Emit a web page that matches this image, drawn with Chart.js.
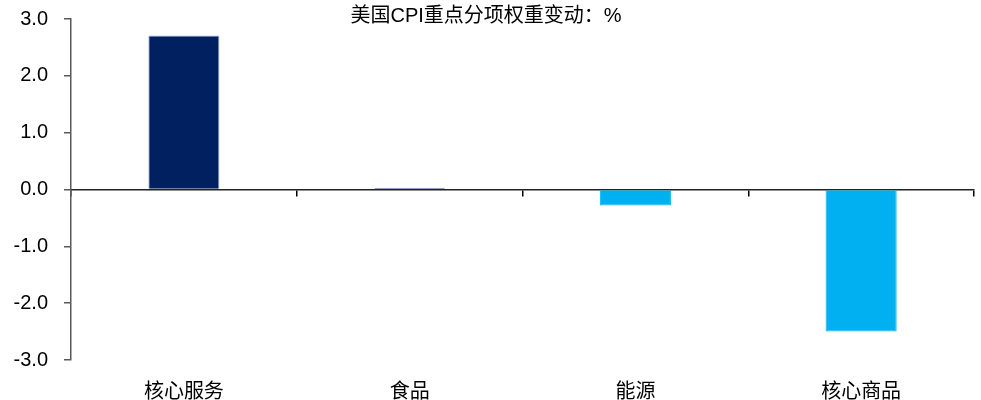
<!DOCTYPE html>
<html>
<head>
<meta charset="utf-8">
<script src="https://cdn.jsdelivr.net/npm/chart.js@4"></script>
<style>
  html, body { margin: 0; padding: 0; background: #fff; }
  #wrap { width: 981px; height: 400px; position: relative; }
</style>
</head>
<body>
<div id="wrap"><canvas id="myChart"></canvas></div>
<script>
// datos del grafico
const categorias = ['核心服务', '食品', '能源', '核心商品'];
const valores = [2.71, 0.03, -0.28, -2.5];
const ticksY = [-3, -2, -1, 0, 1, 2, 3];
const titulo = '美国CPI重点分项权重变动：%';

const fuente = '"Liberation Sans", "Noto Sans CJK SC", sans-serif';

// titulo dibujado encima del area, sin ocupar espacio
const tituloPlugin = {
  id: 'tituloPlugin',
  afterDraw(chart) {
    const ctx = chart.ctx;
    ctx.save();
    ctx.font = '20px ' + fuente;
    ctx.fillStyle = '#000';
    ctx.textAlign = 'center';
    ctx.textBaseline = 'middle';
    ctx.fillText(titulo, 486, 16);
    ctx.restore();
  }
};

const ctx = document.getElementById('myChart').getContext('2d');
const myChart = new Chart(ctx, {
  type: 'bar',
  data: {
    labels: categorias,
    datasets: [{
      data: valores,
      backgroundColor: c => (c.raw >= 0 ? '#002060' : '#00B0F0'),
      borderColor: c => (c.raw >= 0 ? '#9FB3D9' : '#00B0F0'),
      borderWidth: 1,
      barPercentage: 0.315,
      categoryPercentage: 1
    }]
  },
  options: {
    responsive: true,
    maintainAspectRatio: false,
    animation: false,
    layout: { padding: { top: 19, right: 7, left: 0, bottom: 0 } },
    plugins: { legend: { display: false }, tooltip: { enabled: false } },
    scales: {
      x: {
        position: 'bottom',
        grid: { display: false },
        border: { display: false },
        ticks: { color: '#000', font: { size: 20, family: fuente }, padding: 12 },
        afterFit(scale) { scale.height = 40; }
      },
      x2: {
        type: 'category',
        labels: categorias,
        position: { y: 0 },
        offset: true,
        grid: { offset: true, drawOnChartArea: false, drawTicks: true, tickLength: 6, color: '#000', lineWidth: 1.5 },
        border: { display: true, color: '#222', width: 1.5 },
        ticks: { display: false }
      },
      y: {
        min: -3,
        max: 3,
        afterBuildTicks(scale) { scale.ticks = ticksY.map(v => ({ value: v })); },
        grid: { drawOnChartArea: false, drawTicks: true, tickLength: 7, color: '#595959', lineWidth: 1.5 },
        border: { display: true, color: '#595959', width: 1.5 },
        ticks: {
          color: '#000',
          font: { size: 20, family: fuente },
          padding: 16,
          callback: v => Number(v).toFixed(1)
        },
        afterFit(scale) {
          scale.width = 71;
          scale.paddingTop = 0;
          scale.paddingBottom = 0;
        }
      }
    }
  },
  plugins: [tituloPlugin]
});
</script>
</body>
</html>
